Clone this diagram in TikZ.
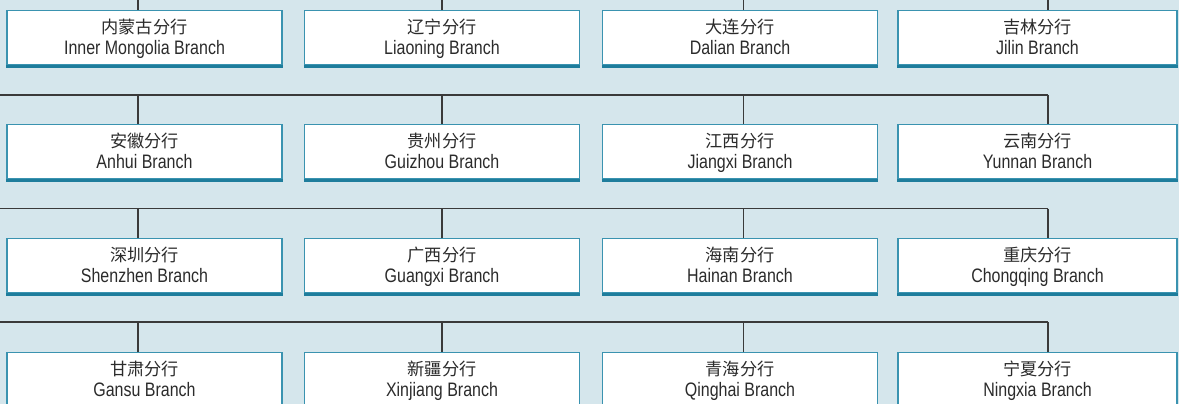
\documentclass[tikz,border=0pt]{standalone}
\usepackage{fontspec}
\setmainfont{Liberation Sans}[FakeStretch=0.82]
\newfontfamily\cjk{Noto Sans CJK SC}
\definecolor{bg}{HTML}{D5E6EC}
\definecolor{frame}{HTML}{3A93B0}
\definecolor{framedark}{HTML}{1E7D9C}
\definecolor{ink}{HTML}{2B2B2B}
\definecolor{wire}{HTML}{3A3A3A}
\begin{document}
\begin{tikzpicture}[x=1pt,y=-1pt,
  branch/.style={draw=frame, line width=1.3pt, fill=white, rectangle,
    minimum width=275pt, minimum height=54pt, inner sep=0pt},
  cntext/.style={anchor=base, inner sep=0pt, text=ink, font=\cjk\fontsize{17.2}{20}\selectfont},
  entext/.style={anchor=base, inner sep=0pt, text=ink, font=\fontsize{19.5}{22}\selectfont},
  wireline/.style={draw=wire, line width=1.2pt}]
\fill[bg] (0,0) rectangle (1179,404);
\useasboundingbox (0,0) rectangle (1179,404);
\newcommand\brn[5][275pt]{%
  \node[branch, minimum width=#1] (#2) at (#3) {};
  \draw[framedark, line width=3pt] ([yshift=-1.5pt]#2.south west) -- ([yshift=-1.5pt]#2.south east);
  \node[cntext] (#2c) at ([yshift=-24pt]#2.north) {#4};
  \node[entext] (#2e) at ([yshift=-44.5pt]#2.north) {#5};}
% rows
\brn{b11}{144.5,37.5}{内蒙古分行}{Inner Mongolia Branch}
\brn{b12}{442,37.5}{辽宁分行}{Liaoning Branch}
\brn{b13}{740,37.5}{大连分行}{Dalian Branch}
\brn[279pt]{b14}{1037.5,37.5}{吉林分行}{Jilin Branch}
\brn{b21}{144.5,151.5}{安徽分行}{Anhui Branch}
\brn{b22}{442,151.5}{贵州分行}{Guizhou Branch}
\brn{b23}{740,151.5}{江西分行}{Jiangxi Branch}
\brn[279pt]{b24}{1037.5,151.5}{云南分行}{Yunnan Branch}
\brn{b31}{144.5,265.5}{深圳分行}{Shenzhen Branch}
\brn{b32}{442,265.5}{广西分行}{Guangxi Branch}
\brn{b33}{740,265.5}{海南分行}{Hainan Branch}
\brn[279pt]{b34}{1037.5,265.5}{重庆分行}{Chongqing Branch}
\brn{b41}{144.5,379.5}{甘肃分行}{Gansu Branch}
\brn{b42}{442,379.5}{新疆分行}{Xinjiang Branch}
\brn{b43}{740,379.5}{青海分行}{Qinghai Branch}
\brn[279pt]{b44}{1037.5,379.5}{宁夏分行}{Ningxia Branch}
% drop x positions
\coordinate (c1) at (138,0);
\coordinate (c2) at (442,0);
\coordinate (c3) at (743.5,0);
\coordinate (c4) at (1048,0);
% top verticals
\foreach \j in {1,2,3,4}{
  \draw[wireline] (c\j) -- (c\j |- b1\j.north);}
% bus lines
\foreach \r/\y in {2/95,3/208.5,4/322}{
  \coordinate (h\r s) at (0,\y);
  \coordinate (h\r e) at (1048,\y);
  \draw[wireline] (h\r s) -- (h\r e);
  \foreach \j in {1,2,3,4}{
    \draw[wireline] (c\j |- h\r s) -- (c\j |- b\r\j.north);}}
\end{tikzpicture}
\end{document}
